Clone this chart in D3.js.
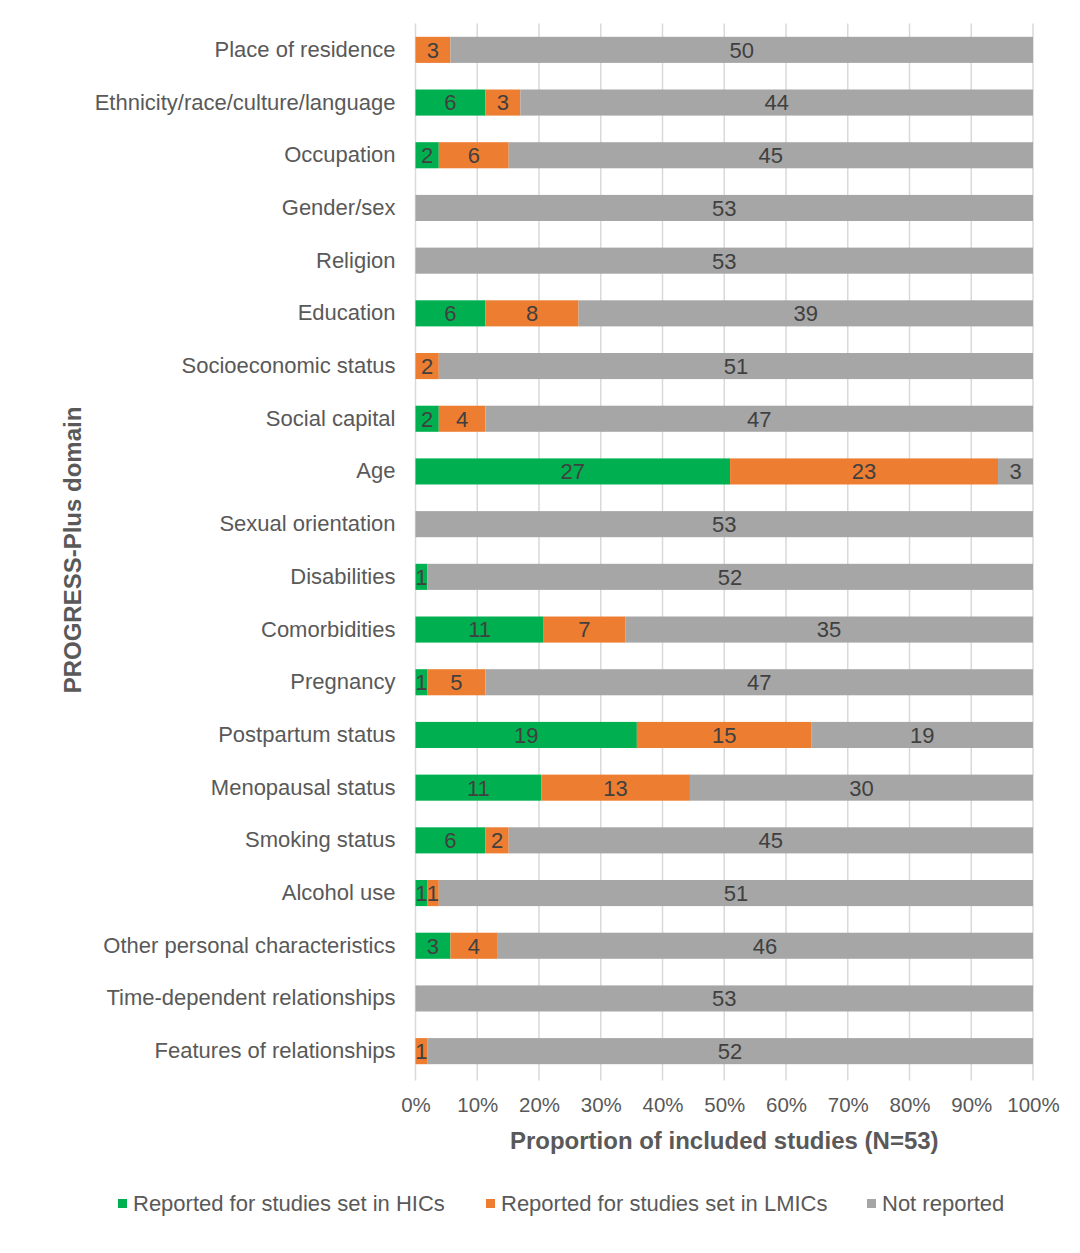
<!DOCTYPE html>
<html>
<head>
<meta charset="utf-8">
<script src="https://cdn.jsdelivr.net/npm/d3@7"></script>
<style>
  body { margin: 0; background: #fff; }
  svg { font-family: "Liberation Sans", Arial, sans-serif; }
</style>
</head>
<body>
<div id="chart"></div>
<script>
// PROGRESS-Plus domains — 100% stacked horizontal bars
const domains = [
  "Place of residence", "Ethnicity/race/culture/language", "Occupation", "Gender/sex",
  "Religion", "Education", "Socioeconomic status", "Social capital", "Age",
  "Sexual orientation", "Disabilities", "Comorbidities", "Pregnancy",
  "Postpartum status", "Menopausal status", "Smoking status", "Alcohol use",
  "Other personal characteristics", "Time-dependent relationships", "Features of relationships"
];
const hics    = [0, 6, 2, 0, 0, 6, 0, 2, 27, 0, 1, 11, 1, 19, 11, 6, 1, 3, 0, 0];
const lmics   = [3, 3, 6, 0, 0, 8, 2, 4, 23, 0, 0, 7, 5, 15, 13, 2, 1, 4, 0, 1];
const notRep  = [50, 44, 45, 53, 53, 39, 51, 47, 3, 53, 52, 35, 47, 19, 30, 45, 51, 46, 53, 52];
const seriesNames = ["Reported for studies set in HICs", "Reported for studies set in LMICs", "Not reported"];
const seriesKeys = ["hic", "lmic", "nr"];
const xTicks = [0, 0.1, 0.2, 0.3, 0.4, 0.5, 0.6, 0.7, 0.8, 0.9, 1];

(function () {
  const W = 1080, H = 1253;
  const margin = { top: 23.5, left: 415.5 };
  const width = 1033 - margin.left;
  const height = 1054;

  const colors = { hic: "#00b050", lmic: "#ed7d31", nr: "#a6a6a6" };

  const rows = domains.map((d, i) => ({ domain: d, hic: hics[i], lmic: lmics[i], nr: notRep[i] }));
  const stacked = d3.stack().keys(seriesKeys).offset(d3.stackOffsetExpand)(rows);

  const svg = d3.select("#chart").append("svg")
    .attr("width", W).attr("height", H)
    .append("g")
    .attr("transform", `translate(${margin.left},${margin.top})`);

  const x = d3.scaleLinear().domain([0, 1]).range([0, width]);
  const y = d3.scaleBand().domain(domains).range([0, height])
    .paddingInner(0.505).paddingOuter(0.2525);

  // gridlines
  svg.selectAll(".grid")
    .data(xTicks)
    .join("line")
    .attr("x1", d => x(d)).attr("x2", d => x(d))
    .attr("y1", 0).attr("y2", height + 3)
    .attr("stroke", "#d9d9d9").attr("stroke-width", 1.5);

  // bars
  const layer = svg.selectAll(".layer")
    .data(stacked)
    .join("g")
    .attr("fill", d => colors[d.key]);

  layer.selectAll("rect")
    .data(d => d.map(s => ({ s, key: d.key })))
    .join("rect")
    .attr("x", d => x(d.s[0]))
    .attr("y", d => y(d.s.data.domain))
    .attr("width", d => x(d.s[1]) - x(d.s[0]))
    .attr("height", y.bandwidth());

  // value labels (skip zeros)
  layer.selectAll("text")
    .data(d => d.map(s => ({ s, key: d.key })).filter(d => d.s.data[d.key] > 0))
    .join("text")
    .attr("x", d => (x(d.s[0]) + x(d.s[1])) / 2)
    .attr("y", d => y(d.s.data.domain) + y.bandwidth() / 2)
    .attr("dy", "0.36em")
    .attr("text-anchor", "middle")
    .attr("font-size", "22px")
    .attr("fill", "#404040")
    .text(d => d.s.data[d.key]);

  // y axis labels
  const yAxis = svg.append("g")
    .call(d3.axisLeft(y).tickSize(0).tickPadding(20));
  yAxis.select(".domain").remove();
  yAxis.selectAll("text")
    .attr("font-size", "22px")
    .attr("font-family", "Liberation Sans, Arial, sans-serif")
    .attr("fill", "#595959");

  // x axis
  const xAxis = svg.append("g")
    .attr("transform", `translate(0,${height})`)
    .call(d3.axisBottom(x).tickValues(xTicks).tickFormat(d3.format(".0%")).tickSize(0).tickPadding(20));
  xAxis.select(".domain").remove();
  xAxis.selectAll("text")
    .attr("font-size", "20.5px")
    .attr("font-family", "Liberation Sans, Arial, sans-serif")
    .attr("fill", "#595959");

  // axis titles
  svg.append("text")
    .attr("x", width / 2)
    .attr("y", 1149 - margin.top)
    .attr("text-anchor", "middle")
    .attr("font-size", "24px")
    .attr("font-weight", "bold")
    .attr("fill", "#595959")
    .text("Proportion of included studies (N=53)");

  svg.append("text")
    .attr("transform", `translate(${81 - margin.left},${550 - margin.top}) rotate(-90)`)
    .attr("text-anchor", "middle")
    .attr("font-size", "24px")
    .attr("font-weight", "bold")
    .attr("fill", "#595959")
    .text("PROGRESS-Plus domain");

  // legend
  const legX = [118, 486, 867];
  const leg = svg.append("g").attr("transform", `translate(${-margin.left},${1203 - margin.top})`);
  seriesKeys.forEach((k, i) => {
    leg.append("rect")
      .attr("x", legX[i]).attr("y", -4)
      .attr("width", 9).attr("height", 9)
      .attr("fill", colors[k]);
    leg.append("text")
      .attr("x", legX[i] + 15).attr("y", 0)
      .attr("dy", "0.36em")
      .attr("font-size", "22px")
      .attr("fill", "#595959")
      .text(seriesNames[i]);
  });
})();
</script>
</body>
</html>
